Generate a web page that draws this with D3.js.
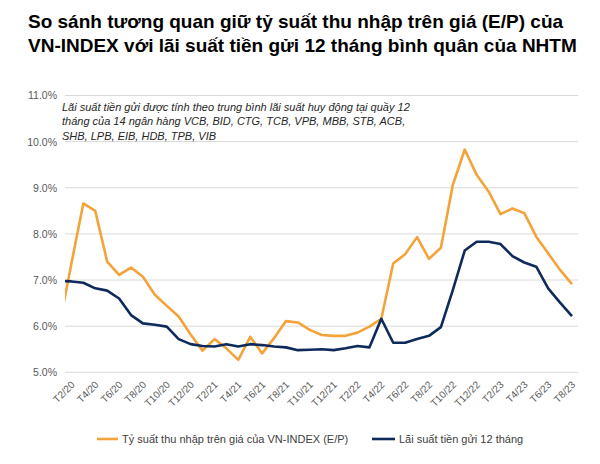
<!DOCTYPE html>
<html>
<head>
<meta charset="utf-8">
<script src="https://cdn.jsdelivr.net/npm/d3@7"></script>
<style>
  body { margin: 0; background: #fff; }
  svg { display: block; font-family: "Liberation Sans", Arial, sans-serif; }
</style>
</head>
<body>
<svg id="chart" width="600" height="464"></svg>
<script>
// ---- Data ----
const months = [
  "T1/20","T2/20","T3/20","T4/20","T5/20","T6/20","T7/20","T8/20","T9/20","T10/20","T11/20","T12/20",
  "T1/21","T2/21","T3/21","T4/21","T5/21","T6/21","T7/21","T8/21","T9/21","T10/21","T11/21","T12/21",
  "T1/22","T2/22","T3/22","T4/22","T5/22","T6/22","T7/22","T8/22","T9/22","T10/22","T11/22","T12/22",
  "T1/23","T2/23","T3/23","T4/23","T5/23","T6/23","T7/23","T8/23"
];
const epYield = [
  6.02,7.36,8.66,8.50,7.40,7.11,7.27,7.07,6.68,6.44,6.21,5.82,
  5.47,5.72,5.52,5.27,5.77,5.41,5.74,6.11,6.08,5.92,5.81,5.79,
  5.79,5.86,5.99,6.16,7.36,7.56,7.93,7.46,7.70,9.06,9.83,9.28,
  8.92,8.43,8.55,8.45,7.94,7.58,7.22,6.91
];
const depositRate = [
  6.98,6.97,6.94,6.82,6.77,6.60,6.24,6.06,6.03,5.99,5.72,5.61,
  5.57,5.56,5.61,5.56,5.61,5.59,5.56,5.54,5.48,5.49,5.50,5.48,
  5.52,5.57,5.54,6.16,5.64,5.64,5.72,5.79,5.98,6.78,7.64,7.83,
  7.83,7.78,7.52,7.38,7.29,6.82,6.51,6.22
];
const xTickLabels = [
  "T2/20","T4/20","T6/20","T8/20","T10/20","T12/20",
  "T2/21","T4/21","T6/21","T8/21","T10/21","T12/21",
  "T2/22","T4/22","T6/22","T8/22","T10/22","T12/22",
  "T2/23","T4/23","T6/23","T8/23"
];
const yTicks = [5, 6, 7, 8, 9, 10, 11];
const titleLines = [
  "So sánh tương quan giữ tỷ suất thu nhập trên giá (E/P) của",
  "VN-INDEX với lãi suất tiền gửi 12 tháng bình quân của NHTM"
];
const noteLines = [
  "Lãi suất tiền gửi được tính theo trung bình lãi suất huy động tại quầy 12",
  "tháng của 14 ngân hàng VCB, BID, CTG, TCB, VPB, MBB, STB, ACB,",
  "SHB, LPB, EIB, HDB, TPB, VIB"
];
const seriesNames = ["Tỷ suất thu nhập trên giá của VN-INDEX (E/P)", "Lãi suất tiền gửi 12 tháng"];
const colors = ["#F4A33A", "#0E2A5C"];

// ---- Layout ----
const FONT = "'Liberation Sans', Arial, sans-serif";
const svg = d3.select("#chart");
const plotLeft = 65, plotRight = 578, plotTop = 95.5, plotBottom = 372.3;

const x = d3.scalePoint().domain(months).range([59.5, 572]);
const y = d3.scaleLinear().domain([5, 11]).range([plotBottom, plotTop]);

// Title
const title = svg.append("text").attr("font-family", FONT)
  .attr("font-size", 19).attr("font-weight", "bold").attr("fill", "#000");
titleLines.forEach((t, i) => title.append("tspan").attr("x", 28).attr("y", 28 + i * 24).text(t));

// Gridlines
svg.append("g").selectAll("line").data(yTicks).join("line")
  .attr("x1", plotLeft).attr("x2", plotRight)
  .attr("y1", d => y(d)).attr("y2", d => y(d))
  .attr("stroke", "#d9d9d9").attr("stroke-width", 1);

// Y axis
const yAxis = svg.append("g").attr("transform", `translate(${plotLeft - 8},0)`)
  .call(d3.axisLeft(y).tickValues(yTicks).tickSize(0).tickPadding(0).tickFormat(d => d3.format(".1f")(d) + "%"));
yAxis.select(".domain").remove();
yAxis.selectAll("text").attr("font-size", 10.5).attr("fill", "#595959").attr("font-family", FONT);

// X axis
const xAxis = svg.append("g").attr("transform", `translate(0,${plotBottom})`)
  .call(d3.axisBottom(x).tickValues(xTickLabels).tickSize(0).tickPadding(0));
xAxis.select(".domain").remove();
xAxis.selectAll("text")
  .attr("font-size", 10).attr("fill", "#595959").attr("font-family", FONT)
  .attr("text-anchor", "end").attr("dy", 0).attr("y", 0)
  .attr("transform", "translate(3.5,13) rotate(-45)");

// Note
const note = svg.append("text").attr("font-family", FONT).attr("font-size", 11)
  .attr("font-style", "italic").attr("fill", "#262626");
noteLines.forEach((t, i) => note.append("tspan").attr("x", 62).attr("y", 110.5 + i * 14.5).text(t));

// Clip to plot area
svg.append("clipPath").attr("id", "plotclip").append("rect")
  .attr("x", plotLeft).attr("y", 0).attr("width", plotRight - plotLeft).attr("height", 464);

const line = d3.line().x((d, i) => x(months[i])).y(d => y(d));
const lines = svg.append("g").attr("clip-path", "url(#plotclip)");
[epYield, depositRate].forEach((s, k) => {
  lines.append("path").datum(s).attr("d", line)
    .attr("fill", "none").attr("stroke", colors[k]).attr("stroke-width", 2.6)
    .attr("stroke-linejoin", "round");
});

// Legend
const legendItems = [{x: 97, w: 21, tx: 122}, {x: 372, w: 23, tx: 399}];
legendItems.forEach((l, k) => {
  svg.append("line").attr("x1", l.x).attr("x2", l.x + l.w).attr("y1", 439).attr("y2", 439)
    .attr("stroke", colors[k]).attr("stroke-width", 2.6);
  svg.append("text").attr("x", l.tx).attr("y", 443).attr("font-family", FONT)
    .attr("font-size", 11).attr("fill", "#404040").text(seriesNames[k]);
});
</script>
</body>
</html>
